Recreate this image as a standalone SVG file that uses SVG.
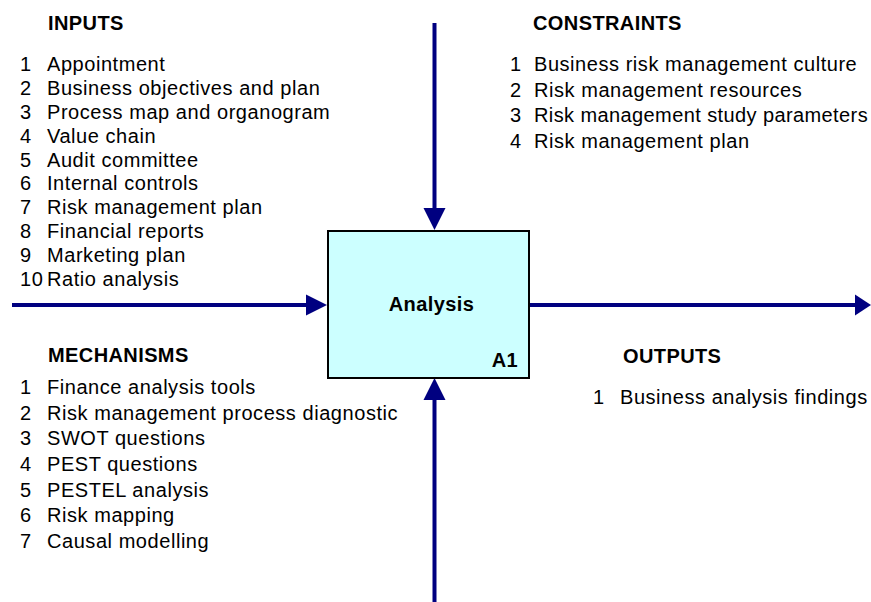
<svg xmlns="http://www.w3.org/2000/svg" width="871" height="602" viewBox="0 0 871 602">
<style>
text{font-family:"Liberation Sans",Arial,sans-serif;font-size:20px;fill:#000;letter-spacing:0.55px}
.h{font-weight:bold;letter-spacing:0.4px}
.t{letter-spacing:0.4px}
.ln{stroke:#000080;stroke-width:4;fill:none}
.ah{fill:#000080}
.box{fill:#CCFFFF;stroke:#000;stroke-width:2}
</style>
<rect width="871" height="602" fill="#fff"/>
<g id="connectors">
<line class="ln" x1="434.5" y1="23" x2="434.5" y2="212"/>
<polygon class="ah" points="423.5,208 445.5,208 434.5,230"/>
<line class="ln" x1="12" y1="305" x2="310" y2="305"/>
<polygon class="ah" points="306,294.5 306,315.5 327,305"/>
<line class="ln" x1="529" y1="305" x2="858" y2="305"/>
<polygon class="ah" points="855,294.5 855,315.5 871,305"/>
<line class="ln" x1="434.5" y1="602" x2="434.5" y2="396"/>
<polygon class="ah" points="423.5,400 445.5,400 434.5,378"/>
</g>
<g id="A1">
<rect class="box" x="328" y="231" width="201" height="147"/>
<text class="h" x="431.5" y="311" text-anchor="middle">Analysis</text>
<text class="h" x="518" y="367" text-anchor="end">A1</text>
</g>
<g id="inputs">
<text class="h" x="48" y="30">INPUTS</text>
<text x="20" y="71">1</text><text x="47" y="71">Appointment</text>
<text x="20" y="95">2</text><text x="47" y="95">Business objectives and plan</text>
<text x="20" y="119">3</text><text x="47" y="119">Process map and organogram</text>
<text x="20" y="143">4</text><text x="47" y="143">Value chain</text>
<text x="20" y="167">5</text><text x="47" y="167">Audit committee</text>
<text x="20" y="190">6</text><text x="47" y="190">Internal controls</text>
<text x="20" y="214">7</text><text x="47" y="214">Risk management plan</text>
<text x="20" y="238">8</text><text x="47" y="238">Financial reports</text>
<text x="20" y="262">9</text><text x="47" y="262">Marketing plan</text>
<text x="20" y="286">10</text><text x="47" y="286">Ratio analysis</text>
</g>
<g id="constraints">
<text class="h" x="533" y="30">CONSTRAINTS</text>
<text x="510" y="71">1</text><text x="534" y="71">Business risk management culture</text>
<text x="510" y="97">2</text><text x="534" y="97">Risk management resources</text>
<text x="510" y="122">3</text><text class="t" x="534" y="122">Risk management study parameters</text>
<text x="510" y="148">4</text><text x="534" y="148">Risk management plan</text>
</g>
<g id="mechanisms">
<text class="h" x="48" y="362">MECHANISMS</text>
<text x="20" y="394">1</text><text x="47" y="394">Finance analysis tools</text>
<text x="20" y="420">2</text><text x="47" y="420">Risk management process diagnostic</text>
<text x="20" y="445">3</text><text x="47" y="445">SWOT questions</text>
<text x="20" y="471">4</text><text x="47" y="471">PEST questions</text>
<text x="20" y="497">5</text><text x="47" y="497">PESTEL analysis</text>
<text x="20" y="522">6</text><text x="47" y="522">Risk mapping</text>
<text x="20" y="548">7</text><text x="47" y="548">Causal modelling</text>
</g>
<g id="outputs">
<text class="h" x="623" y="363">OUTPUTS</text>
<text x="593" y="404">1</text><text x="620" y="404">Business analysis findings</text>
</g>
</svg>
